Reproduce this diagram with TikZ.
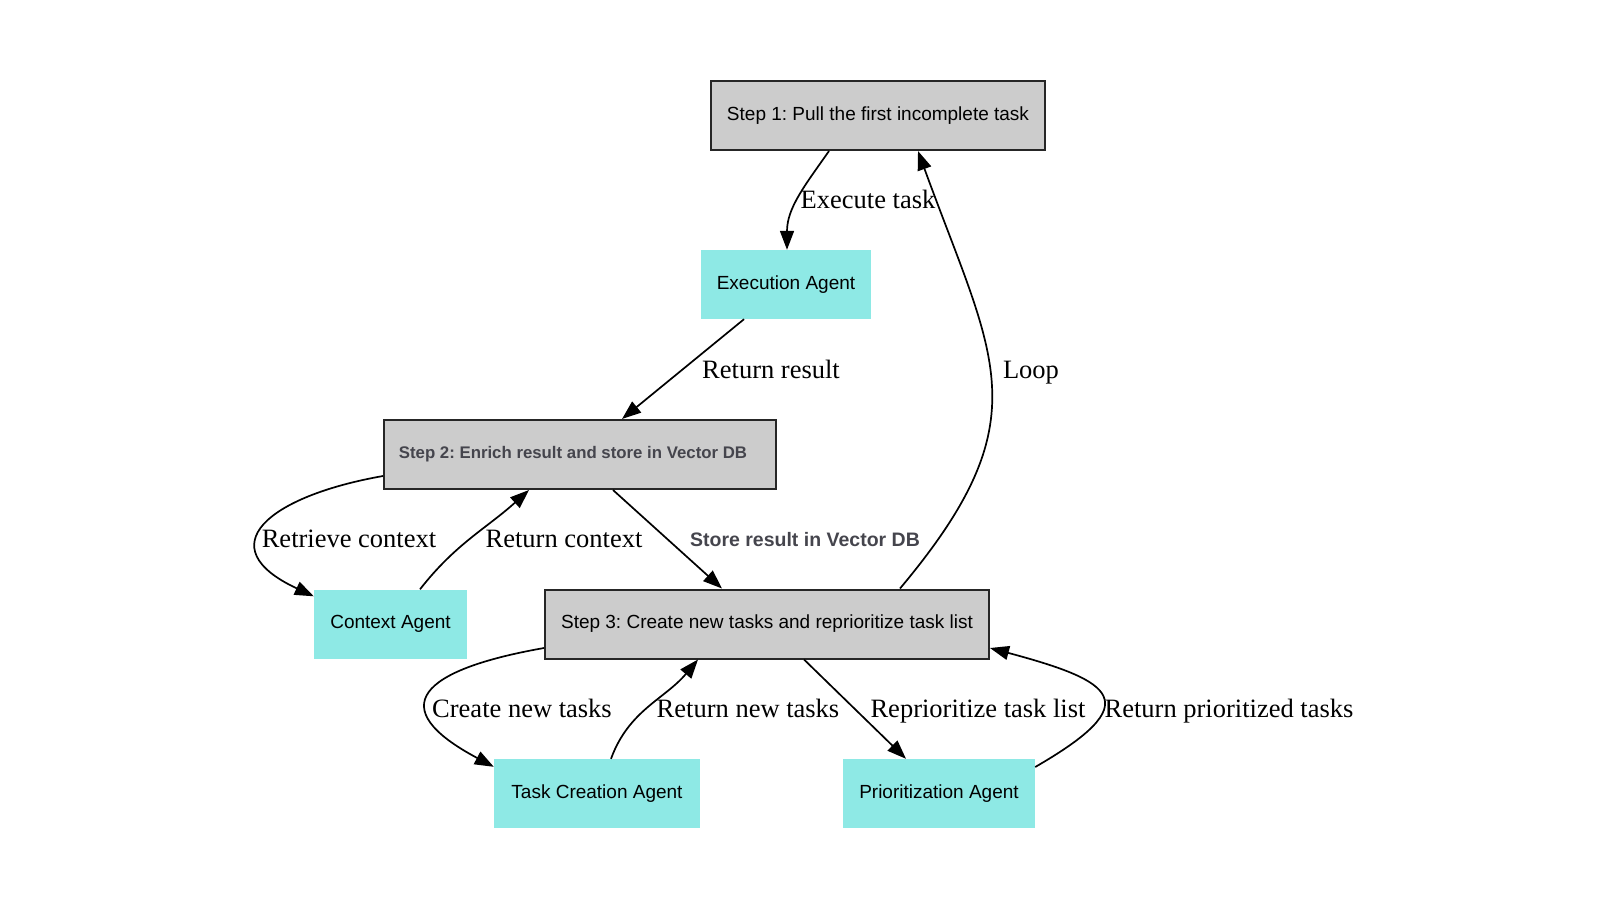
\documentclass[tikz,border=0pt]{standalone}
\usepackage{fontspec}
\setmainfont{Liberation Serif}
\newfontfamily\boxfont{Liberation Sans}
\usetikzlibrary{arrows.meta}
\definecolor{StepGray}{HTML}{CCCCCC}
\definecolor{AgentCyan}{HTML}{8EE9E5}
\definecolor{NoteGray}{HTML}{45454D}
\frenchspacing

\begin{document}
\begin{tikzpicture}[
  x=1pt, y=-1pt, >={Triangle[length=19pt,width=14pt]},
  st/.style={draw=black!85, line width=2pt, fill=StepGray, minimum height=69pt,
             inner sep=0pt, font=\boxfont\fontsize{19}{23}\selectfont},
  ag/.style={fill=AgentCyan, minimum height=69pt, inner sep=0pt,
             font=\boxfont\fontsize{19}{23}\selectfont},
  ar/.style={->, line width=1.7pt, black},
  % edge captions are serif, the one store caption is bold sans
  lab/.style={font=\fontsize{26.5}{32}\selectfont, inner sep=0pt},
  note/.style={font=\boxfont\bfseries\fontsize{19.5}{23}\selectfont, text=NoteGray, inner sep=0pt}]

\useasboundingbox (0,0) rectangle (1600,900);

% ================= step nodes =================
\node[st, minimum width=334pt] (s1) at (878,115.5) {Step 1: Pull the first incomplete task};
\node[st, minimum width=392pt, text=NoteGray,
      font=\boxfont\bfseries\fontsize{16.8}{20}\selectfont] (s2) at (580,454.5)
  {\hspace*{-14pt}Step 2: Enrich result and store in Vector DB};
\node[st, minimum width=444pt] (s3) at (767,624) {Step 3: Create new tasks and reprioritize task list};

% ================= agents =================
\node[ag, minimum width=170pt] (exe) at (786,284.5) {Execution Agent};
\node[ag, minimum width=153pt] (ctx) at (390.5,624) {Context Agent};
\node[ag, minimum width=206pt] (tca) at (597,793.5) {Task Creation Agent};
\node[ag, minimum width=192pt] (pri) at (939,793.5) {Prioritization Agent};

% ================= execute / enrich =================
\draw[ar] ([xshift=-49pt]s1.south) to[out=-125, in=90] ([xshift=1pt]exe.north);
\node[lab] (lexe) at (868,199) {Execute task};
\draw[ar] ([xshift=-42pt]exe.south) -- ([xshift=42pt]s2.north);
\node[lab] (lres) at (771,369) {Return result};

\draw[ar] ([yshift=-21.5pt]s2.west) to[out=190, in=155, looseness=2.15] ([yshift=-7pt]ctx.north west);
\node[lab] (lret) at (349,539) {Retrieve context};
\draw[ar] ([xshift=29.5pt]ctx.north) to[out=52, in=-138] ([xshift=-51pt]s2.south);
\node[lab] (lctx) at (564,539) {Return context};

\draw[ar] ([xshift=33pt]s2.south) -- ([xshift=-45pt]s3.north);
\node[note] (lsto) at (805,540) {Store result in Vector DB};

% ================= loop back =================
\draw[ar] ([xshift=133pt]s3.north) to[out=50, in=-70, looseness=1.3] ([xshift=40pt]s1.south);
\node[lab] (lloop) at (1031,373) {Loop};

% ================= create / reprioritize =================
\draw[ar] ([yshift=-24pt]s3.west) to[out=190, in=152, looseness=2.5] ([yshift=-8pt]tca.north west);
\node[lab] (lnew) at (522,708) {Create new tasks};
\draw[ar] ([xshift=14pt]tca.north) to[out=70, in=-130] ([xshift=-69pt]s3.south);
\node[lab] (lrnew) at (748,708) {Return new tasks};

\draw[ar] ([xshift=37pt]s3.south) -- ([xshift=-33pt]pri.north);
\node[lab] (lrep) at (978,711) {Reprioritize task list};
\draw[ar] ([yshift=26.5pt]pri.east) to[out=30, in=-15, looseness=2.6] ([yshift=-24pt]s3.east);
\node[lab] (lpri) at (1229,711) {Return prioritized tasks};
\end{tikzpicture}
\end{document}
